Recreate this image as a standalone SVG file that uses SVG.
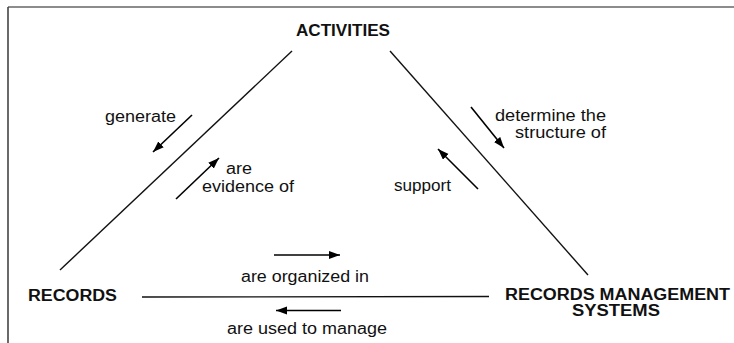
<svg xmlns="http://www.w3.org/2000/svg" width="734" height="343" viewBox="0 0 734 343">
  <defs>
    <marker id="ah" markerUnits="userSpaceOnUse" markerWidth="12" markerHeight="9" refX="11" refY="4" orient="auto">
      <path d="M0,0 L11,4 L0,8 z" fill="#000"/>
    </marker>
    <style>
      .t { font-family: "Liberation Sans", Arial, sans-serif; font-weight: bold; font-size: 16px; fill: #111; }
      .l { font-family: "Liberation Sans", Arial, sans-serif; font-size: 16px; fill: #111; }
      .edge { stroke: #111; stroke-width: 1.4; fill: none; }
      .arr { stroke: #000; stroke-width: 1.6; fill: none; marker-end: url(#ah); }
    </style>
  </defs>
  <rect width="734" height="343" fill="#fff"/>
  <g id="frame">
    <line x1="8" y1="7" x2="734" y2="7" stroke="#666" stroke-width="1.6"/>
    <line x1="8" y1="7" x2="8" y2="343" stroke="#444" stroke-width="1.6"/>
  </g>
  <g id="connectors">
    <line class="edge" x1="292" y1="51" x2="60" y2="270"/>
    <line class="edge" x1="390" y1="51" x2="588" y2="275"/>
    <line class="edge" x1="142" y1="297" x2="489" y2="296.5"/>
    <line class="arr" x1="192" y1="115" x2="153" y2="152"/>
    <line class="arr" x1="176" y1="199" x2="219" y2="158"/>
    <line class="arr" x1="471" y1="107" x2="504" y2="148"/>
    <line class="arr" x1="478" y1="189" x2="438" y2="149"/>
    <line class="arr" x1="274" y1="255" x2="340" y2="255"/>
    <line class="arr" x1="341" y1="310.5" x2="276" y2="310.5"/>
    <text class="l" x="105" y="122" textLength="71" lengthAdjust="spacingAndGlyphs">generate</text>
    <text class="l" x="226" y="174" textLength="26" lengthAdjust="spacingAndGlyphs">are</text>
    <text class="l" x="202" y="192" textLength="92" lengthAdjust="spacingAndGlyphs">evidence of</text>
    <text class="l" x="495" y="121" textLength="111" lengthAdjust="spacingAndGlyphs">determine the</text>
    <text class="l" x="515" y="138" textLength="91" lengthAdjust="spacingAndGlyphs">structure of</text>
    <text class="l" x="394" y="191" textLength="57" lengthAdjust="spacingAndGlyphs">support</text>
    <text class="l" x="241" y="282" textLength="128" lengthAdjust="spacingAndGlyphs">are organized in</text>
    <text class="l" x="227" y="334" textLength="160" lengthAdjust="spacingAndGlyphs">are used to manage</text>
  </g>
  <g id="activities">
    <text class="t" x="296" y="35.5" textLength="94" lengthAdjust="spacingAndGlyphs">ACTIVITIES</text>
  </g>
  <g id="records">
    <text class="t" x="28" y="300.5" textLength="89" lengthAdjust="spacingAndGlyphs">RECORDS</text>
  </g>
  <g id="rms">
    <text class="t" x="505" y="300" textLength="225" lengthAdjust="spacingAndGlyphs">RECORDS MANAGEMENT</text>
    <text class="t" x="572" y="316" textLength="88" lengthAdjust="spacingAndGlyphs">SYSTEMS</text>
  </g>
</svg>
